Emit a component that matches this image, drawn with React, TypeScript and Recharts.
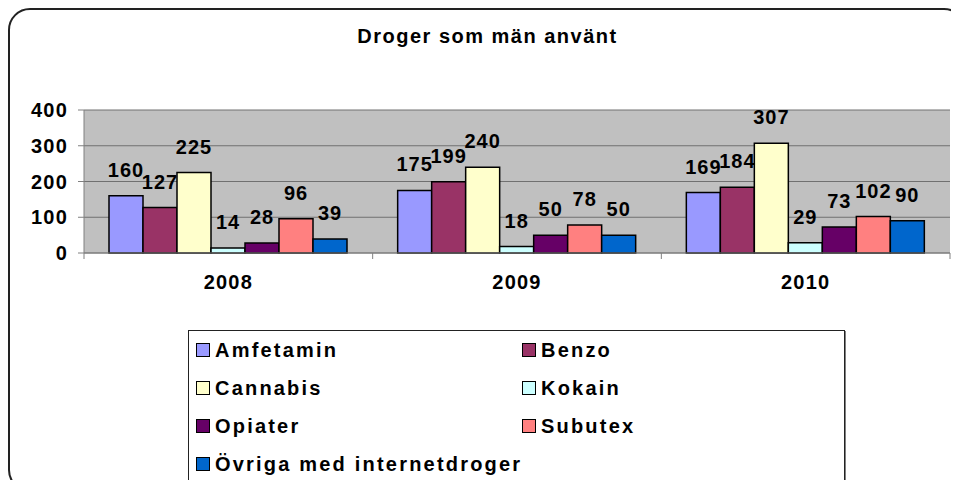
import { Bar, BarChart, CartesianGrid, LabelList, Legend, XAxis, YAxis } from 'recharts'

// årtal och antal per drog (avläst från originalet)
const years = ['2008', '2009', '2010']
const amfetamin = [160, 175, 169]
const benzo = [127, 199, 184]
const cannabis = [225, 240, 307]
const kokain = [14, 18, 29]
const opiater = [28, 50, 73]
const subutex = [96, 78, 102]
const ovriga = [39, 50, 90]
const yTicks = [0, 100, 200, 300, 400]

const series = [
  { key: 'amfetamin', name: 'Amfetamin', values: amfetamin, color: '#9999FF' },
  { key: 'benzo', name: 'Benzo', values: benzo, color: '#993366' },
  { key: 'cannabis', name: 'Cannabis', values: cannabis, color: '#FFFFCC' },
  { key: 'kokain', name: 'Kokain', values: kokain, color: '#CCFFFF' },
  { key: 'opiater', name: 'Opiater', values: opiater, color: '#660066' },
  { key: 'subutex', name: 'Subutex', values: subutex, color: '#FF8080' },
  { key: 'ovriga', name: 'Övriga med internetdroger', values: ovriga, color: '#0066CC' }
]

const data = years.map((year, i) => {
  const row: Record<string, string | number> = { year }
  series.forEach((s) => {
    row[s.key] = s.values[i]
  })
  return row
})

const font = '"Liberation Sans", Arial, sans-serif'

// årtal under axeln + små streck mellan grupperna
function YearTick(props: any) {
  const { x, y, payload, index, visibleTicksCount } = props
  const half = payload?.offset ?? 0
  return (
    <g>
      <line x1={x - half} x2={x - half} y1={y} y2={y + 6} stroke="#808080" />
      {index === visibleTicksCount - 1 && <line x1={x + half} x2={x + half} y1={y} y2={y + 6} stroke="#808080" />}
      <text
        x={x}
        y={y + 31}
        textAnchor="middle"
        dominantBaseline="middle"
        fontSize={20}
        fontWeight="bold"
        fontFamily={font}
        letterSpacing={1.2}
        fill="#000"
      >
        {payload.value}
      </text>
    </g>
  )
}

function LegendBox() {
  return (
    <div
      style={{
        width: '100%',
        height: '100%',
        boxSizing: 'border-box',
        border: '1px solid #222',
        boxShadow: '1px 1px 0 #808080',
        display: 'grid',
        gridTemplateColumns: '326px 1fr',
        gridAutoRows: 38,
        paddingLeft: 7,
        background: '#fff'
      }}
    >
      {series.map((s) => (
        <div key={s.key} style={{ display: 'flex', alignItems: 'center', whiteSpace: 'nowrap' }}>
          <span
            style={{
              width: 12,
              height: 12,
              background: s.color,
              border: '1.5px solid #000',
              marginRight: 5,
              flex: 'none'
            }}
          />
          <span style={{ fontFamily: font, fontWeight: 'bold', fontSize: 20, letterSpacing: 2.2, color: '#000' }}>
            {s.name}
          </span>
        </div>
      ))}
    </div>
  )
}

export default function App() {
  return (
    <div style={{ position: 'relative', width: 959, height: 488, margin: -8, overflow: 'hidden', background: '#fff' }}>
      <div
        style={{
          position: 'absolute',
          left: 8,
          top: 8,
          width: 958,
          height: 484,
          boxSizing: 'border-box',
          border: '2px solid #222',
          borderRadius: 22
        }}
      />
      <div
        style={{
          position: 'absolute',
          top: 25,
          left: 0,
          width: 975,
          textAlign: 'center',
          fontFamily: font,
          fontWeight: 'bold',
          fontSize: 20,
          letterSpacing: 1.5,
          color: '#000'
        }}
      >
        Droger som män använt
      </div>
      <div style={{ position: 'absolute', left: 0, top: 0 }}>
        <BarChart
          width={959}
          height={488}
          data={data}
          margin={{ top: 110, right: 9, left: 0, bottom: 205 }}
          barCategoryGap={25}
          barGap={0}
        >
          <CartesianGrid fill="#C0C0C0" stroke="#707070" vertical={false} />
          <XAxis
            dataKey="year"
            height={30}
            tickSize={0}
            tickMargin={0}
            tickLine={false}
            axisLine={{ stroke: '#808080' }}
            tick={<YearTick />}
            interval={0}
          />
          <YAxis
            width={84}
            domain={[0, 400]}
            ticks={yTicks}
            interval={0}
            tickSize={6}
            tickMargin={10}
            axisLine={{ stroke: '#808080' }}
            tickLine={{ stroke: '#808080' }}
            tick={{ fill: '#000', fontSize: 20, fontWeight: 'bold', fontFamily: font, letterSpacing: 1.2 }}
          />
          <YAxis yAxisId="kant" orientation="right" width={0} tick={false} tickLine={false} axisLine={{ stroke: '#808080' }} />
          <Legend
            layout="vertical"
            align="center"
            verticalAlign="middle"
            wrapperStyle={{ left: 188, top: 330, width: 657, height: 156 }}
            content={<LegendBox />}
          />
          {series.map((s) => (
            <Bar key={s.key} dataKey={s.key} name={s.name} fill={s.color} stroke="#000" strokeWidth={1.5} isAnimationActive={false}>
              <LabelList
                dataKey={s.key}
                position="top"
                offset={19}
                style={{ fill: '#000', fontSize: 20, fontWeight: 'bold', fontFamily: font, letterSpacing: 1 }}
              />
            </Bar>
          ))}
        </BarChart>
      </div>
    </div>
  )
}
